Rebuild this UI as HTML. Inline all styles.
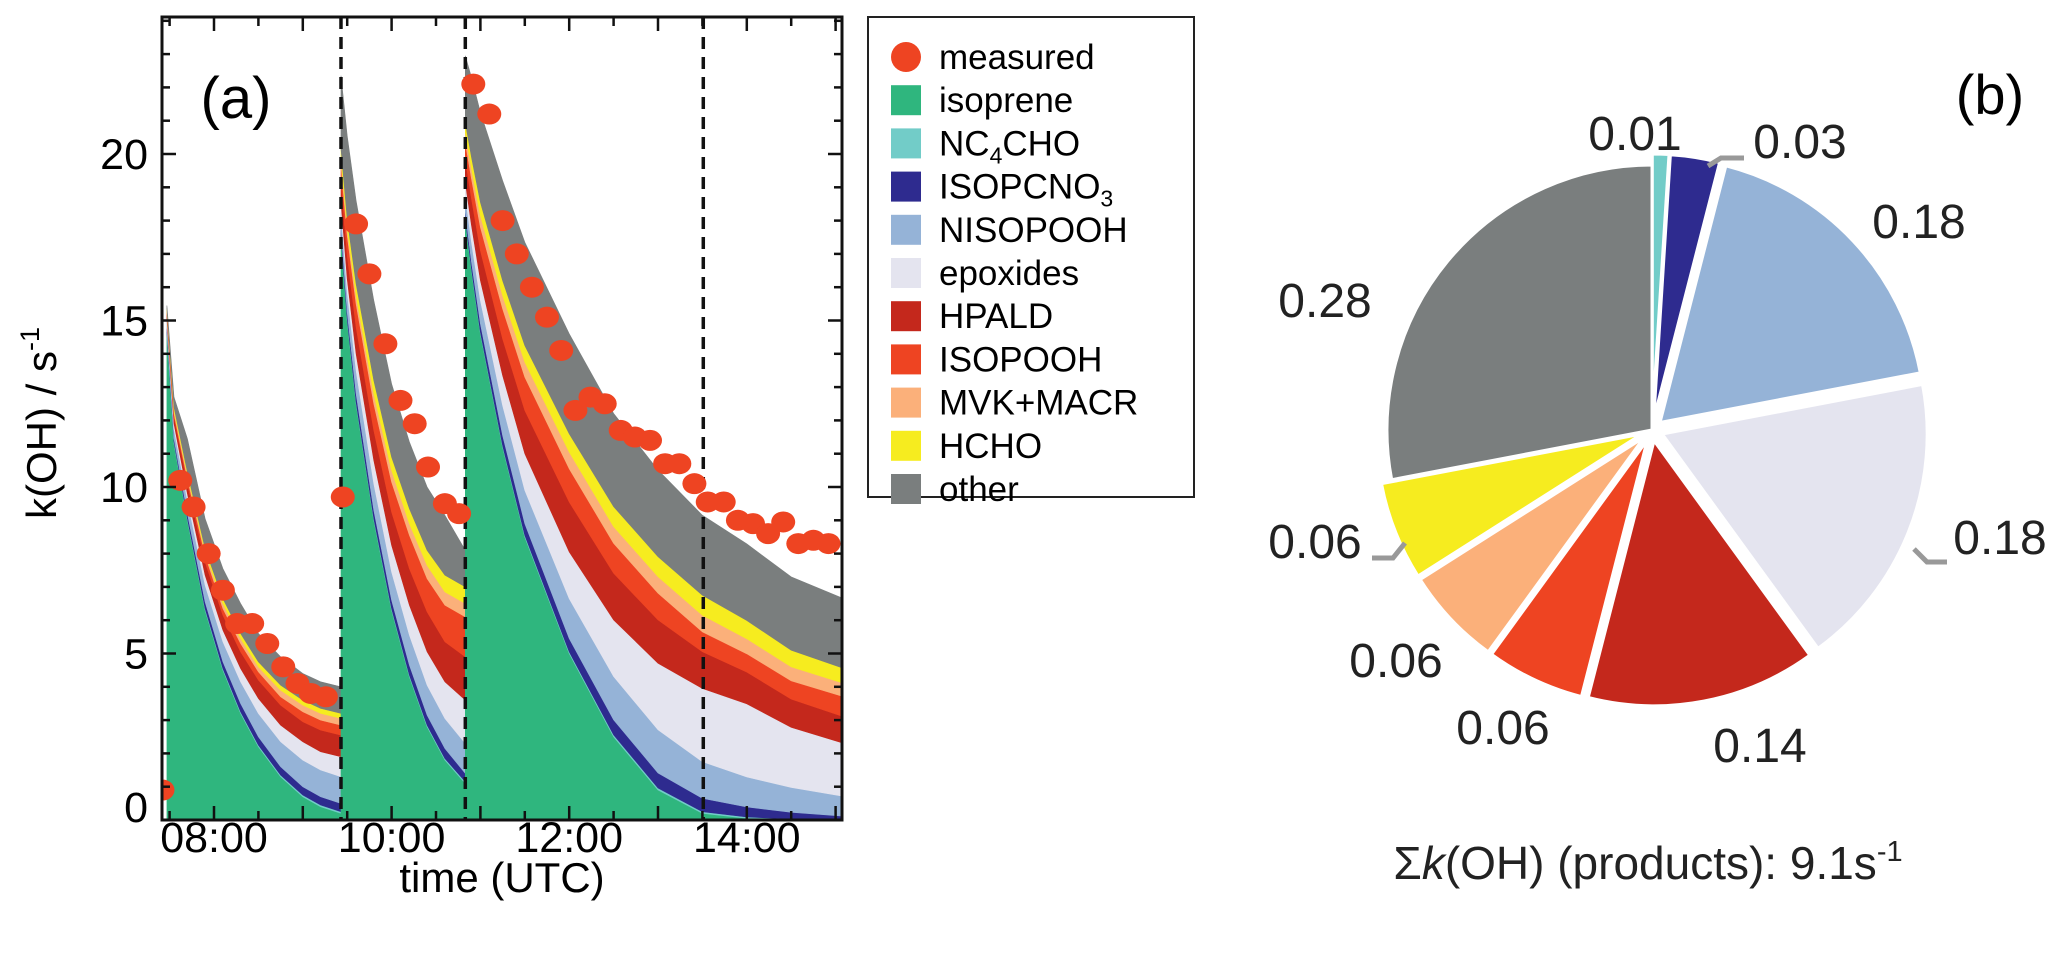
<!DOCTYPE html>
<html><head><meta charset="utf-8"><style>
html,body{margin:0;padding:0;background:#fff;}
svg{display:block;font-family:"Liberation Sans",Arial,sans-serif;}
</style></head><body>
<svg id="fig" width="2067" height="960" viewBox="0 0 2067 960" xmlns="http://www.w3.org/2000/svg">
<defs><clipPath id="plotclip"><rect x="162" y="17" width="680" height="803"/></clipPath></defs>
<g id="areas" clip-path="url(#plotclip)"></g>
<g id="dashes"></g>
<g id="dots" clip-path="url(#plotclip)"></g>
<g id="axes"></g>
<text x="236" y="118" font-size="58" text-anchor="middle">(a)</text>
<text transform="translate(56,423) rotate(-90)" font-size="42" text-anchor="middle">k(OH) / s<tspan dy="-17" font-size="27">-1</tspan></text>
<text x="502" y="892" font-size="42" text-anchor="middle">time (UTC)</text>
<g id="legend">
<rect x="868" y="17" width="326" height="480" fill="#fff" stroke="#222" stroke-width="2"/>
</g>
<g id="pie"></g>
<text x="1990" y="114" font-size="56" text-anchor="middle">(b)</text>
<text x="1648" y="879" font-size="46" text-anchor="middle" fill="#222">Σ<tspan font-style="italic">k</tspan>(OH) (products): 9.1s<tspan dy="-18" font-size="29">-1</tspan></text>
</svg>
<script>
// ---------- chart (a) data ----------
const layerNames = ["isoprene","NC4CHO","ISOPCNO3","NISOPOOH","epoxides","HPALD","ISOPOOH","MVK+MACR","HCHO","other"];
const layerColors = ["#2fb67e","#72ccc8","#2e2b8f","#95b3d7","#e4e4ef","#c4281c","#ee4422","#fbb07a","#f6ec1f","#7a7e7e"];
const segment = [1,1,1,1,1,1,1,1,1,1,1, 2,2,2,2,2,2,2,2,2, 3,3,3,3,3,3,3,3,3,3,3,3];
const times = [7.47,7.55,7.7,7.9,8.1,8.3,8.5,8.75,9.0,9.2,9.43, 9.43,9.5,9.6,9.8,10.0,10.2,10.4,10.6,10.83, 10.83,10.9,11.0,11.25,11.5,12.0,12.5,13.0,13.5,14.0,14.5,15.07];
const isoprene = [14.6,11.3,9.0,6.3,4.5,3.2,2.2,1.3,0.7,0.4,0.2, 17.5,15.0,12.5,9.0,6.3,4.3,2.8,1.8,1.1, 18.0,16.5,14.6,11.2,8.5,5.0,2.5,0.9,0.2,0.05,0,0];
const nc4cho = [0.05,0.05,0.05,0.05,0.05,0.05,0.05,0.05,0.05,0.05,0.05, 0.05,0.05,0.05,0.05,0.05,0.05,0.05,0.05,0.05, 0.05,0.05,0.05,0.05,0.05,0.05,0.06,0.06,0.05,0.04,0.03,0.02];
const isopcno3 = [0.1,0.1,0.15,0.2,0.2,0.25,0.25,0.25,0.25,0.25,0.25, 0.2,0.2,0.25,0.25,0.25,0.3,0.3,0.3,0.25, 0.2,0.2,0.25,0.3,0.35,0.4,0.45,0.45,0.4,0.3,0.2,0.1];
const nisopooh = [0.2,0.3,0.4,0.5,0.6,0.65,0.7,0.75,0.8,0.8,0.8, 0.5,0.6,0.7,0.8,0.85,0.9,0.9,0.9,0.9, 0.5,0.6,0.7,0.9,1.0,1.2,1.3,1.3,1.1,0.9,0.75,0.6];
const epoxides = [0.1,0.15,0.2,0.3,0.35,0.4,0.45,0.5,0.55,0.55,0.6, 0.3,0.4,0.5,0.7,0.8,0.9,1.0,1.1,1.3, 0.4,0.5,0.6,0.9,1.1,1.4,1.7,2.0,2.2,2.2,1.8,1.6];
const hpald = [0.15,0.2,0.3,0.4,0.45,0.5,0.55,0.6,0.6,0.65,0.65, 0.6,0.7,0.8,0.9,1.0,1.1,1.2,1.2,1.3, 0.7,0.8,0.9,1.1,1.3,1.5,1.4,1.3,1.1,0.95,0.85,0.8];
const isopooh = [0.05,0.1,0.15,0.2,0.2,0.25,0.25,0.25,0.3,0.3,0.3, 0.5,0.6,0.7,0.8,0.9,1.0,1.0,1.1,1.2, 0.5,0.6,0.7,0.9,1.0,1.0,0.9,0.8,0.6,0.55,0.55,0.6];
const mvkMacr = [0.05,0.1,0.1,0.1,0.15,0.15,0.15,0.2,0.2,0.2,0.2, 0.2,0.2,0.25,0.3,0.35,0.35,0.4,0.4,0.4, 0.3,0.3,0.35,0.4,0.45,0.5,0.5,0.5,0.5,0.45,0.42,0.4];
const hcho = [0.05,0.1,0.1,0.1,0.15,0.15,0.15,0.15,0.15,0.15,0.15, 0.3,0.3,0.35,0.4,0.4,0.45,0.45,0.5,0.5, 0.3,0.35,0.4,0.45,0.5,0.55,0.6,0.6,0.6,0.55,0.5,0.45];
const other = [0.1,0.3,1.0,0.9,0.9,0.9,0.85,0.85,0.8,0.8,0.8, 2.2,2.5,2.5,2.4,2.2,2.0,1.9,1.8,1.1, 2.0,2.4,2.7,3.0,3.1,3.0,2.8,2.6,2.4,2.3,2.2,2.1];
const measTimes = [7.42,7.62,7.77,7.94,8.10,8.26,8.43,8.60,8.78,8.94,9.09,9.26,9.45,9.60,9.75,9.93,10.10,10.26,10.41,10.60,10.76,10.92,11.10,11.25,11.41,11.58,11.75,11.91,12.07,12.24,12.40,12.58,12.74,12.91,13.08,13.24,13.41,13.56,13.74,13.90,14.07,14.24,14.41,14.58,14.75,14.92];
const measValues = [0.9,10.2,9.4,8.0,6.9,5.9,5.9,5.3,4.6,4.1,3.8,3.7,9.7,17.9,16.4,14.3,12.6,11.9,10.6,9.5,9.2,22.1,21.2,18.0,17.0,16.0,15.1,14.1,12.3,12.7,12.5,11.7,11.5,11.4,10.7,10.7,10.1,9.55,9.55,9.0,8.9,8.6,8.95,8.3,8.4,8.3];
const injectionTimes = [9.43,10.83,13.51];
const yTickLabels = ["0","5","10","15","20"];
const yTickValues = [0,5,10,15,20];
const xTickLabels = ["08:00","10:00","12:00","14:00"];
const xTickValues = [8,10,12,14];
// ---------- chart (b) data ----------
const pieLabels = ["NC4CHO","ISOPCNO3","NISOPOOH","epoxides","HPALD","ISOPOOH","MVK+MACR","HCHO","other"];
const pieValues = [0.01,0.03,0.18,0.18,0.14,0.06,0.06,0.06,0.28];
const pieColors = ["#72ccc8","#2e2b8f","#95b3d7","#e4e4ef","#c4281c","#ee4422","#fbb07a","#f6ec1f","#7a7e7e"];
const pieText = ["0.01","0.03","0.18","0.18","0.14","0.06","0.06","0.06","0.28"];

const NS = "http://www.w3.org/2000/svg";
function mk(tag, attrs, parent){ const e=document.createElementNS(NS,tag); for(const k in attrs) e.setAttribute(k,attrs[k]); parent.appendChild(e); return e; }
const X0=162, X1=842, Y0=820, Y1=17;
function xs(t){ return 214 + 88.8*(t-8); }
function ys(v){ return 820 - 33.3*v; }

// stacked areas
const layers=[isoprene,nc4cho,isopcno3,nisopooh,epoxides,hpald,isopooh,mvkMacr,hcho,other];
const areas=document.getElementById('areas');
[1,2,3].forEach(function(s){
  const idx=[]; for(let i=0;i<times.length;i++) if(segment[i]===s) idx.push(i);
  let lower=idx.map(function(){return 0;});
  layers.forEach(function(L,li){
    const upper=idx.map(function(i,k){return lower[k]+L[i];});
    let d="M"+xs(times[idx[0]])+","+ys(lower[0]);
    idx.forEach(function(i,k){ d+=" L"+xs(times[i]).toFixed(1)+","+ys(upper[k]).toFixed(1); });
    for(let k=idx.length-1;k>=0;k--) d+=" L"+xs(times[idx[k]]).toFixed(1)+","+ys(lower[k]).toFixed(1);
    d+="Z";
    const p=mk('path',{d:d,fill:layerColors[li],stroke:layerColors[li],'stroke-width':0.6},areas);
    
    
    lower=upper;
  });
});

// dashed lines
const dashes=document.getElementById('dashes');
injectionTimes.forEach(function(t){
  const l=mk('line',{x1:xs(t),x2:xs(t),y1:Y1,y2:Y0,stroke:'#111','stroke-width':3.5,'stroke-dasharray':'12 8'},dashes);
  
  
});

// measured dots
const dots=document.getElementById('dots');
measTimes.forEach(function(t,i){
  const c=mk('ellipse',{cx:xs(t),cy:ys(measValues[i]),rx:12,ry:10.5,fill:'#ee4422'},dots);
  
  
});

// axes
const ax=document.getElementById('axes');
const frame=mk('rect',{x:X0,y:Y1,width:X1-X0,height:Y0-Y1,fill:'none',stroke:'#111','stroke-width':3},ax);


for(let v=0; v<=24; v++){
  const len=(v%5===0)?14:8;
  mk('line',{x1:X0,x2:X0+len,y1:ys(v),y2:ys(v),stroke:'#111','stroke-width':2.5},ax);
  mk('line',{x1:X1,x2:X1-len,y1:ys(v),y2:ys(v),stroke:'#111','stroke-width':2.5},ax);
}
for(let t=7.5; t<=15.01; t+=0.5){
  const len=(Math.abs(t-Math.round(t))<0.01)?14:9;
  mk('line',{x1:xs(t),x2:xs(t),y1:Y0,y2:Y0-len,stroke:'#111','stroke-width':2.5},ax);
  mk('line',{x1:xs(t),x2:xs(t),y1:Y1,y2:Y1+len,stroke:'#111','stroke-width':2.5},ax);
}
yTickLabels.forEach(function(s,i){
  const tx=mk('text',{x:148,y:ys(yTickValues[i])+15-(yTickValues[i]===0?13:0),'font-size':43,'text-anchor':'end'},ax);
  tx.textContent=s;
  
  
});
xTickLabels.forEach(function(s,i){
  const tx=mk('text',{x:xs(xTickValues[i]),y:852,'font-size':43,'text-anchor':'middle'},ax);
  tx.textContent=s;
  
  
});

// legend
const lg=document.getElementById('legend');
const legendItems=["measured"].concat(layerNames);
legendItems.forEach(function(name,i){
  const cy=57+i*43.2;
  const g=mk('g',{},lg);
  
  
  if(i===0){ mk('circle',{cx:906,cy:cy,r:15,fill:'#ee4422'},g); }
  else { mk('rect',{x:891,y:cy-15,width:30,height:30,fill:layerColors[i-1]},g); }
  const t=mk('text',{x:939,y:cy+12,'font-size':35},g);
  if(name==="NC4CHO"){ t.innerHTML='NC<tspan dy="8" font-size="23">4</tspan><tspan dy="-8">CHO</tspan>'; }
  else if(name==="ISOPCNO3"){ t.innerHTML='ISOPCNO<tspan dy="8" font-size="23">3</tspan>'; }
  else t.textContent=name;
});

// pie
const pie=document.getElementById('pie');
const cx=1652, cy=430, R=265;
let acc=0;
function pt(a,r,ox,oy){ return [cx+ox+r*Math.sin(a), cy+oy-r*Math.cos(a)]; }
pieValues.forEach(function(v,i){
  const a0=acc*2*Math.PI, a1=(acc+v)*2*Math.PI; acc+=v;
  const mid=(a0+a1)/2, off=(pieLabels[i]==="other")?0:11;
  const ox=off*Math.sin(mid), oy=-off*Math.cos(mid);
  const p0=pt(a0,R,ox,oy), p1=pt(a1,R,ox,oy);
  const large=(a1-a0)>Math.PI?1:0;
  const d="M"+(cx+ox)+","+(cy+oy)+" L"+p0[0].toFixed(1)+","+p0[1].toFixed(1)+" A"+R+","+R+" 0 "+large+" 1 "+p1[0].toFixed(1)+","+p1[1].toFixed(1)+"Z";
  const s=mk('path',{d:d,fill:pieColors[i],stroke:'#fff','stroke-width':3},pie);
  
  
});
const labelPos=[[1635,150],[1800,158],[1919,238],[2000,554],[1760,762],[1503,744],[1396,677],[1315,558],[1325,317]];
pieText.forEach(function(s,i){
  const t=mk('text',{x:labelPos[i][0],y:labelPos[i][1],'font-size':48,'text-anchor':'middle',fill:'#222'},pie);
  t.textContent=s;
  
  
});
[["1708,166 1721,158 1744,158"],["1914,549 1927,562 1947,562"],["1372,558 1393,558 1405,543"]].forEach(function(pp){
  const l=mk('polyline',{points:pp[0],fill:'none',stroke:'#999','stroke-width':5},pie);
  
  
});
</script>
</body></html>
